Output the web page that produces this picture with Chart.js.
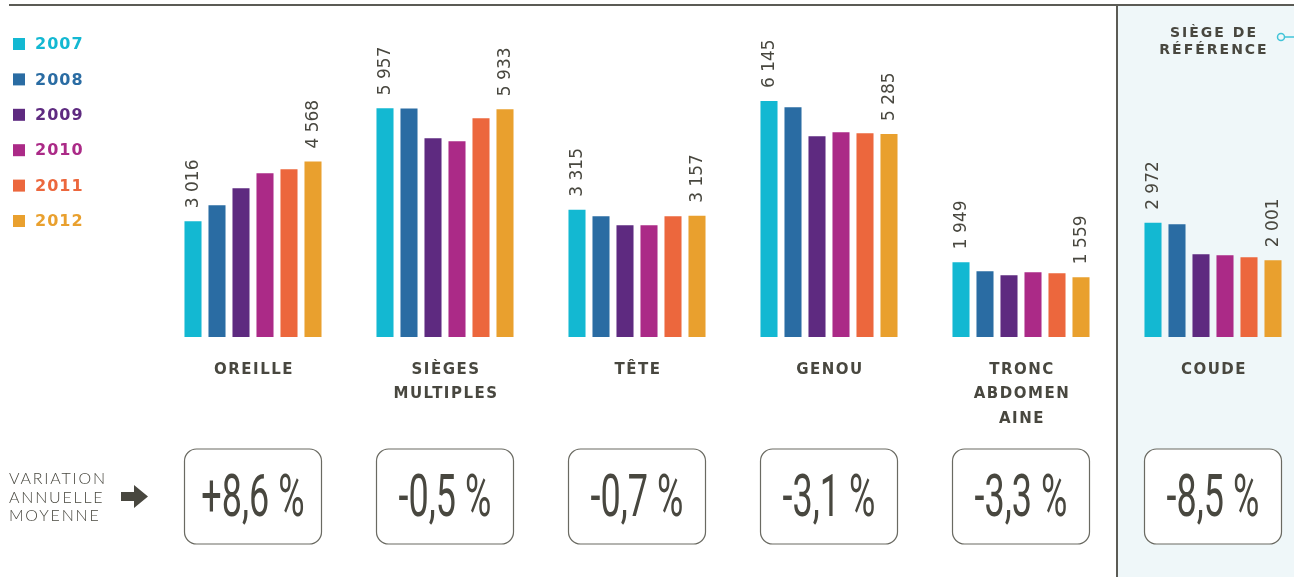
<!DOCTYPE html>
<html>
<head>
<meta charset="utf-8">
<script src="https://cdn.jsdelivr.net/npm/chart.js@4.4.1/dist/chart.umd.min.js"></script>
<style>
html, body { margin: 0; padding: 0; background: #fff; overflow: hidden; }
#wrap { position: relative; width: 1310px; height: 577px; }
</style>
</head>
<body>
<div id="wrap"><canvas id="chart" width="1310" height="577"></canvas></div>
<script>
// Data
const categories = [['OREILLE'], ['SIÈGES', 'MULTIPLES'], ['TÊTE'], ['GENOU'], ['TRONC', 'ABDOMEN', 'AINE'], ['COUDE']];
const years = ['2007', '2008', '2009', '2010', '2011', '2012'];
const values2007 = [3016, 5957, 3315, 6145, 1949, 2972];
const values2008 = [3430, 5950, 3143, 5981, 1711, 2935];
const values2009 = [3872, 5174, 2909, 5226, 1607, 2153];
const values2010 = [4263, 5096, 2909, 5330, 1685, 2127];
const values2011 = [4367, 5695, 3143, 5304, 1659, 2075];
const values2012 = [4568, 5933, 3157, 5285, 1559, 2001];
const variations = ['+8,6 %', '-0,5 %', '-0,7 %', '-3,1 %', '-3,3 %', '-8,5 %'];
const colors = ['#13b8d2', '#2a6ca3', '#5e2a80', '#ab2a87', '#ec673d', '#e9a02e'];

const series = [values2007, values2008, values2009, values2010, values2011, values2012];
const TEXT = '#48473f';

function fmt(n) {
    return String(n).replace(/\B(?=(\d{3})+(?!\d))/g, ' ');
}

// Panel, frame lines, legend (drawn under the bars)
const backdrop = {
    id: 'backdrop',
    beforeDraw(chart) {
        const ctx = chart.ctx;
        const x = chart.scales.x;
        const panelLeft = x.getPixelForValue(4) + (x.getPixelForValue(5) - x.getPixelForValue(4)) / 2;
        ctx.save();
        ctx.fillStyle = '#eff7f9';
        ctx.fillRect(panelLeft, 5, chart.width - panelLeft, chart.height);
        ctx.strokeStyle = '#5b5b55';
        ctx.lineWidth = 2;
        ctx.beginPath();
        ctx.moveTo(9, 5);
        ctx.lineTo(chart.width, 5);
        ctx.moveTo(panelLeft, 5);
        ctx.lineTo(panelLeft, chart.height);
        ctx.stroke();

        // reference marker
        ctx.strokeStyle = '#40c4d8';
        ctx.lineWidth = 1.5;
        ctx.beginPath();
        ctx.arc(1281, 37, 3.5, 0, Math.PI * 2);
        ctx.stroke();
        ctx.beginPath();
        ctx.moveTo(1285, 37);
        ctx.lineTo(1300, 37);
        ctx.stroke();

        ctx.fillStyle = TEXT;
        ctx.font = 'bold 14px "DejaVu Sans"';
        ctx.letterSpacing = '2px';
        ctx.textAlign = 'center';
        ctx.textBaseline = 'middle';
        const cx = x.getPixelForValue(5);
        ctx.fillText('SIÈGE DE', cx + 1, 33);
        ctx.fillText('RÉFÉRENCE', cx + 1, 50);

        // legend
        ctx.textAlign = 'left';
        ctx.font = 'bold 16px "DejaVu Sans"';
        ctx.letterSpacing = '1px';
        years.forEach((y, i) => {
            const yy = 44 + i * 35.4;
            ctx.fillStyle = colors[i];
            ctx.fillRect(13, yy - 6, 12, 12);
            ctx.fillText(y, 35, yy + 1);
        });
        ctx.restore();
    }
};

// Value labels, category names, variation boxes
const annotations = {
    id: 'annotations',
    afterDatasetsDraw(chart) {
        const ctx = chart.ctx;
        const x = chart.scales.x;
        ctx.save();
        ctx.fillStyle = TEXT;

        // rotated value labels on first and last year
        ctx.font = '17px "DejaVu Sans"';
        ctx.textAlign = 'left';
        ctx.textBaseline = 'middle';
        [0, series.length - 1].forEach(di => {
            chart.getDatasetMeta(di).data.forEach((bar, j) => {
                ctx.save();
                ctx.translate(bar.x, bar.y - 13);
                ctx.rotate(-Math.PI / 2);
                ctx.fillText(fmt(series[di][j]), 0, 1);
                ctx.restore();
            });
        });

        // category names
        ctx.font = 'bold 15px "DejaVu Sans"';
        ctx.letterSpacing = '1.5px';
        ctx.textAlign = 'center';
        categories.forEach((lines, j) => {
            const cx = x.getPixelForValue(j);
            lines.forEach((t, k) => ctx.fillText(t, cx + 1, 370 + k * 24.5));
        });
        ctx.letterSpacing = '0px';

        // variation boxes
        categories.forEach((_, j) => {
            const cx = x.getPixelForValue(j);
            ctx.beginPath();
            ctx.roundRect(cx - 68.5, 449, 137, 95, 12);
            ctx.fillStyle = '#fff';
            ctx.fill();
            ctx.strokeStyle = '#6a6a62';
            ctx.lineWidth = 1.2;
            ctx.stroke();
            ctx.save();
            ctx.translate(cx, 516);
            ctx.scale(0.6, 1);
            ctx.fillStyle = TEXT;
            ctx.font = '60px Roboto';
            ctx.textBaseline = 'alphabetic';
            ctx.fillText(variations[j], 0, 0);
            ctx.restore();
        });

        // left caption + arrow
        ctx.fillStyle = TEXT;
        ctx.textAlign = 'left';
        ctx.font = '300 16px Lato';
        ctx.letterSpacing = '1.8px';
        ['VARIATION', 'ANNUELLE', 'MOYENNE'].forEach((t, k) => ctx.fillText(t, 9, 479 + k * 18.5));
        ctx.beginPath();
        ctx.moveTo(121, 492);
        ctx.lineTo(134, 492);
        ctx.lineTo(134, 485);
        ctx.lineTo(148, 496.5);
        ctx.lineTo(134, 508);
        ctx.lineTo(134, 501);
        ctx.lineTo(121, 501);
        ctx.closePath();
        ctx.fill();
        ctx.restore();
    }
};

new Chart(document.getElementById('chart'), {
    type: 'bar',
    data: {
        labels: categories.map(c => c.join(' ')),
        datasets: years.map((y, i) => ({
            label: y,
            data: series[i],
            backgroundColor: colors[i],
            borderWidth: 0,
            categoryPercentage: 0.75,
            barPercentage: 0.71
        }))
    },
    options: {
        responsive: false,
        animation: false,
        layout: { padding: { left: 157, right: 1, top: 0, bottom: 240 } },
        scales: {
            x: { display: false },
            y: { display: false, min: 0, max: 8775 }
        },
        plugins: {
            legend: { display: false },
            tooltip: { enabled: false }
        }
    },
    plugins: [backdrop, annotations]
});
</script>
</body>
</html>
